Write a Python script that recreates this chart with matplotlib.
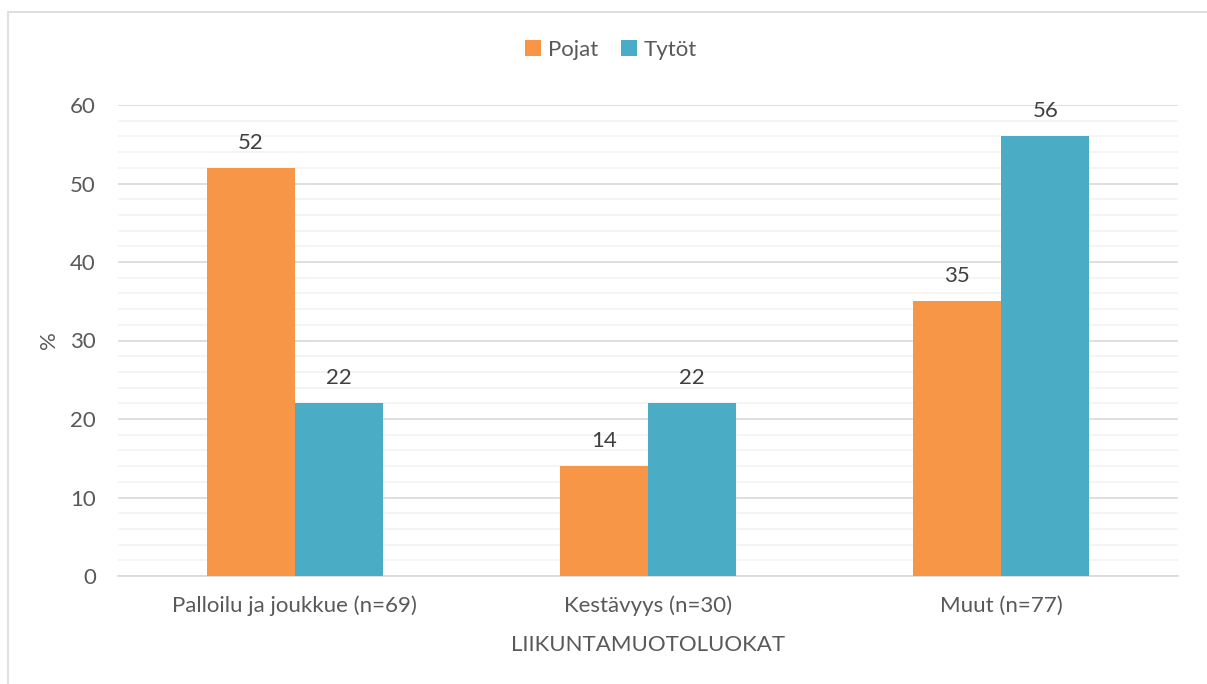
import matplotlib
matplotlib.use('Agg')
import matplotlib.pyplot as plt
import numpy as np
from matplotlib.patches import Rectangle

# Data
categories = ['Palloilu ja joukkue (n=69)', 'Kestävyys (n=30)', 'Muut (n=77)']
series_names = ['Pojat', 'Tytöt']
pojat = [52, 14, 35]
tytot = [22, 22, 56]

colors = ['#F79646', '#4BACC6']
text_color = '#595959'

plt.rcParams['font.family'] = ['Lato', 'DejaVu Sans']

W, H = 1207, 684
fig = plt.figure(figsize=(W / 100, H / 100), dpi=100)
fig.patch.set_facecolor('white')

# Chart border (light gray frame, extends past right/bottom)
fig.patches.append(Rectangle((8 / W, -0.1), 1.2, 1 - 12 / H + 0.1,
                             transform=fig.transFigure, fill=False,
                             edgecolor='#D9D9D9', linewidth=1.2))

ax = fig.add_axes([118 / W, 1 - 576 / H, (1178 - 118) / W, (576 - 105) / H])

x = np.arange(len(categories))
bw = 0.249
ax.bar(x - bw / 2, pojat, width=bw, color=colors[0], label=series_names[0], zorder=3)
ax.bar(x + bw / 2, tytot, width=bw, color=colors[1], label=series_names[1], zorder=3)

fs = 16
for xi, v in zip(x - bw / 2, pojat):
    ax.annotate(str(v), (xi, v), xytext=(0, 11), textcoords='offset points',
                ha='center', va='bottom', fontsize=fs, color='#404040')
for xi, v in zip(x + bw / 2, tytot):
    ax.annotate(str(v), (xi, v), xytext=(0, 11), textcoords='offset points',
                ha='center', va='bottom', fontsize=fs, color='#404040')

ax.set_xlim(-0.5, len(categories) - 0.5)
ax.set_ylim(0, 60)
ax.set_yticks(range(0, 61, 10))
ax.set_yticks(range(0, 61, 2), minor=True)
ax.grid(axis='y', which='major', color='#D9D9D9', linewidth=1.2, zorder=0)
ax.grid(axis='y', which='minor', color='#F2F2F2', linewidth=1.2, zorder=0)
ax.set_axisbelow(True)

ax.set_xticks(x)
ax.set_xticklabels(categories)
ax.tick_params(axis='both', which='both', length=0, labelsize=fs, colors=text_color)
ax.tick_params(axis='x', pad=14)
ax.tick_params(axis='y', pad=16)

for s in ['top', 'right', 'left']:
    ax.spines[s].set_visible(False)
ax.spines['bottom'].set_color('#D9D9D9')
ax.spines['bottom'].set_linewidth(1.2)

ax.set_xlabel('LIIKUNTAMUOTOLUOKAT', fontsize=fs, color=text_color, labelpad=14)
ax.set_ylabel('%', fontsize=fs, color=text_color, labelpad=8)

leg = fig.legend(loc='center', bbox_to_anchor=(611 / W, 1 - 50 / H), ncol=2,
                 frameon=False, fontsize=fs, handlelength=0.75, handleheight=0.75,
                 handletextpad=0.3, columnspacing=1.0)
for t in leg.get_texts():
    t.set_color(text_color)

fig.savefig('out.png', dpi=100, facecolor='white')
